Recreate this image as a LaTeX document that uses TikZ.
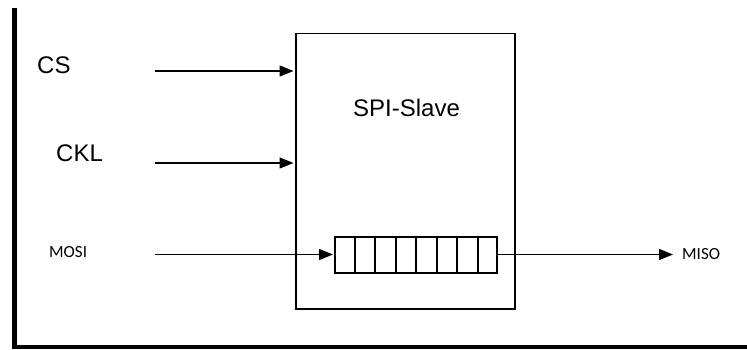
\documentclass[tikz,border=0pt]{standalone}
\usepackage{fontspec}
\setmainfont{Liberation Sans}
\newfontfamily\calibfont{Carlito}
\usetikzlibrary{arrows.meta,calc}
\begin{document}
\begin{tikzpicture}[x=1pt,y=-1pt,
  sig/.style={draw, line width=1.3pt, -{Triangle[length=14pt,width=11pt]}},
  biglabel/.style={font=\fontsize{24}{24}\selectfont, inner sep=0pt, anchor=west},
  smalllabel/.style={font=\calibfont\fontsize{17}{17}\selectfont, inner sep=0pt, anchor=west},
  cellbox/.style={draw, line width=2pt, minimum width=162pt, minimum height=36pt, inner sep=0pt, anchor=west}]
\useasboundingbox (0,0) rectangle (747,350);
% frame
\draw[line width=5pt] (14.5,8) -- (14.5,349);
\draw[line width=3.5pt] (12,347) -- (747,347);
% main block
\node[draw, line width=1.5pt, minimum width=219pt, minimum height=275pt, inner sep=0pt, anchor=north west] (slave) at (295,33) {};
\node[font=\fontsize{24}{24}\selectfont, inner sep=0pt] (title) at (406.5,108) {SPI-Slave};
% shift register
\node[cellbox] (reg) at (334,254.5) {};
\foreach \i in {1,...,7} {
  \draw[line width=2pt] ($(reg.south west)!\i/8!(reg.south east)$) -- ($(reg.north west)!\i/8!(reg.north east)$);
}
% labels
\node[biglabel] (cs) at (37,65) {CS};
\node[biglabel] (ckl) at (56,153) {CKL};
\node[smalllabel] (mosi) at (49,252) {MOSI};
\node[smalllabel] (miso) at (682,254.5) {MISO};
% connectors
\coordinate (csin) at (155,71);
\coordinate (cklin) at (155,163);
\coordinate (mosiin) at (155,254.5);
\coordinate (misoout) at (673,254.5);
\draw[sig, shorten >=1.5pt] (csin) -- (csin -| slave.west);
\draw[sig, shorten >=1.5pt] (cklin) -- (cklin -| slave.west);
\draw[sig, shorten >=1pt] (mosiin) -- (reg.west);
\draw[sig] (reg.east) -- (misoout);
\end{tikzpicture}
\end{document}
